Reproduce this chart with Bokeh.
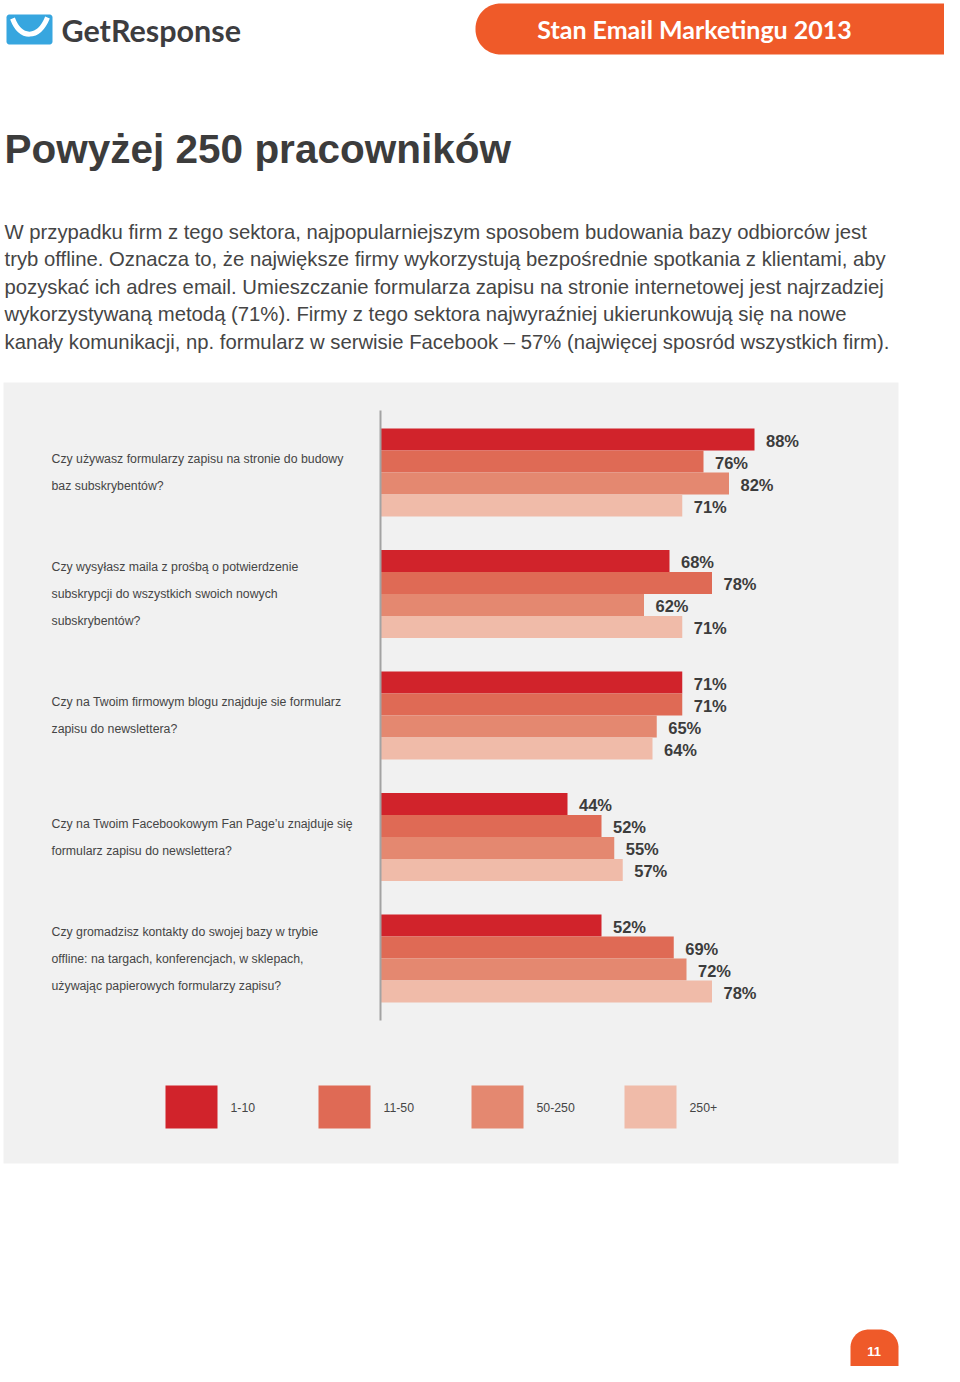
import numpy as np
from bokeh.plotting import figure
from bokeh.models import Range1d, ColumnDataSource
from bokeh.core.properties import value
from bokeh.embed import file_html
from bokeh.resources import INLINE

# ---------------- data ----------------
questions = [
    ["Czy używasz formularzy zapisu na stronie do budowy", "baz subskrybentów?"],
    ["Czy wysyłasz maila z prośbą o potwierdzenie", "subskrypcji do wszystkich swoich nowych", "subskrybentów?"],
    ["Czy na Twoim firmowym blogu znajduje sie formularz", "zapisu do newslettera?"],
    ["Czy na Twoim Facebookowym Fan Page’u znajduje się", "formularz zapisu do newslettera?"],
    ["Czy gromadzisz kontakty do swojej bazy w trybie", "offline: na targach, konferencjach, w sklepach,",
     "używając papierowych formularzy zapisu?"],
]
series_names = ["1-10", "11-50", "50-250", "250+"]
vals_1_10 = [88, 68, 71, 44, 52]
vals_11_50 = [76, 78, 71, 52, 69]
vals_50_250 = [82, 62, 65, 55, 72]
vals_250p = [71, 71, 64, 57, 78]
series_values = [vals_1_10, vals_11_50, vals_50_250, vals_250p]
series_colors = ["#d1232b", "#df6a55", "#e48870", "#f0bba9"]

header_brand = "GetResponse"
header_banner = "Stan Email Marketingu 2013"
title_text = "Powyżej 250 pracowników"
paragraph = [
    "W przypadku firm z tego sektora, najpopularniejszym sposobem budowania bazy odbiorców jest",
    "tryb offline. Oznacza to, że największe firmy wykorzystują bezpośrednie spotkania z klientami, aby",
    "pozyskać ich adres email. Umieszczanie formularza zapisu na stronie internetowej jest najrzadziej",
    "wykorzystywaną metodą (71%). Firmy z tego sektora najwyraźniej ukierunkowują się na nowe",
    "kanały komunikacji, np. formularz w serwisie Facebook – 57% (najwięcej sposród wszystkich firm).",
]
page_number = "11"

# ---------------- layout helpers ----------------
W, H = 944, 1366
OX, OY = 0, 0
TEXT_DARK = "#3c3c3c"
TEXT_MID = "#454545"
ORANGE = "#ef5a29"
FONT = value("Liberation Sans")


def rounded_rect(x0, x1, y0, y1, rtl=0, rtr=0, rbr=0, rbl=0, n=24):
    xs, ys = [], []
    def arc(cx, cy, r, a0, a1):
        if r <= 0:
            xs.append(cx); ys.append(cy); return
        t = np.linspace(a0, a1, n)
        xs.extend(cx + r * np.cos(t)); ys.extend(cy + r * np.sin(t))
    arc(x0 + rtl, y0 + rtl, rtl, np.pi, 1.5 * np.pi)
    arc(x1 - rtr, y0 + rtr, rtr, 1.5 * np.pi, 2 * np.pi)
    arc(x1 - rbr, y1 - rbr, rbr, 0, 0.5 * np.pi)
    arc(x0 + rbl, y1 - rbl, rbl, 0.5 * np.pi, np.pi)
    return list(xs), list(ys)


p = figure(width=W, height=H, output_backend="svg", toolbar_location=None,
           x_range=Range1d(OX, OX + W), y_range=Range1d(OY + H, OY),
           min_border=0, x_axis_type=None, y_axis_type=None,
           outline_line_color=None, background_fill_color="white",
           border_fill_color="white")
p.xgrid.visible = False
p.ygrid.visible = False

# percentage scale for bars: 0% at page x=380, 4.25 px per percent
AX0, PXPCT = 380, 4.25
p.extra_x_ranges = {"pct": Range1d((OX - AX0) / PXPCT, (OX + W - AX0) / PXPCT)}

# ---------------- header ----------------
lx, ly = rounded_rect(6, 52, 14, 44, 3, 3, 3, 3)
p.patch(lx, ly, fill_color="#37a6df", line_color=None)
p.bezier(x0=[12], y0=[18], x1=[47], y1=[17], cx0=[20], cy0=[39], cx1=[38], cy1=[39],
         line_color="white", line_width=5)
p.text(x=[61], y=[29], text=[header_brand], text_font=value("Lato"), text_font_style="bold",
       text_font_size="30.5px", text_color="#3d3d3f", text_baseline="middle")

bx, by = rounded_rect(475, 975, 3, 54, 25, 0, 0, 25)
p.patch(bx, by, fill_color=ORANGE, line_color=None)
p.text(x=[694], y=[28], text=[header_banner], text_font=value("Lato"), text_font_style="bold",
       text_font_size="25px", text_color="white", text_align="center", text_baseline="middle")

# ---------------- title & paragraph ----------------
p.text(x=[4], y=[148], text=[title_text], text_font=FONT, text_font_style="bold",
       text_font_size="40.5px", text_color=TEXT_DARK, text_baseline="middle")
p.text(x=[4] * len(paragraph), y=[231 + 27.5 * i for i in range(len(paragraph))], text=paragraph,
       text_font=FONT, text_font_size="20.3px", text_color=TEXT_MID, text_baseline="middle")

# ---------------- chart panel ----------------
p.quad(left=[3], right=[898], top=[382], bottom=[1163], fill_color="#f1f1f1", line_color=None)

GROUP_TOP, GROUP_STEP, BAR_H = 428, 121.5, 22
n_q = len(questions)
bar_src = dict(left=[], right=[], top=[], bottom=[], color=[], lx=[], ly=[], label=[])
for g in range(n_q):
    for s in range(len(series_values)):
        v = series_values[s][g]
        top = GROUP_TOP + g * GROUP_STEP + s * BAR_H
        bar_src["left"].append(0)
        bar_src["right"].append(v)
        bar_src["top"].append(top)
        bar_src["bottom"].append(top + BAR_H)
        bar_src["color"].append(series_colors[s])
        bar_src["lx"].append(v + 11.5 / PXPCT)
        bar_src["ly"].append(top + BAR_H / 2 + 1)
        bar_src["label"].append(f"{v}%")
src = ColumnDataSource(bar_src)
p.quad(left="left", right="right", top="top", bottom="bottom", fill_color="color",
       line_color=None, source=src, x_range_name="pct")
p.text(x="lx", y="ly", text="label", source=src, x_range_name="pct", text_font=FONT,
       text_font_style="bold", text_font_size="16.5px", text_color=TEXT_DARK, text_baseline="middle")

# axis line at 0%
p.segment(x0=[0], x1=[0], y0=[410], y1=[1020], line_color="#a3a3a3", line_width=2,
          x_range_name="pct")

# question labels
qx, qy, qt = [], [], []
for g, lines in enumerate(questions):
    center = GROUP_TOP + g * GROUP_STEP + 2 * BAR_H
    n = len(lines)
    for i, t in enumerate(lines):
        qx.append(51)
        qy.append(center + (i - (n - 1) / 2) * 27)
        qt.append(t)
p.text(x=qx, y=qy, text=qt, text_font=FONT, text_font_size="12.3px", text_color=TEXT_MID,
       text_baseline="middle")

# legend
for i, (name, col) in enumerate(zip(series_names, series_colors)):
    x0 = 165 + i * 153
    p.quad(left=[x0], right=[x0 + 52], top=[1085], bottom=[1128], fill_color=col, line_color=None)
    p.text(x=[x0 + 65], y=[1107], text=[name], text_font=FONT, text_font_size="12.3px",
           text_color=TEXT_MID, text_baseline="middle")

# page number tab
tx, ty = rounded_rect(850, 898, 1329, 1390, 18, 18, 0, 0)
p.patch(tx, ty, fill_color=ORANGE, line_color=None)
p.text(x=[873.5], y=[1351], text=[page_number], text_font=FONT, text_font_style="bold",
       text_font_size="13px", text_color="white", text_align="center", text_baseline="middle")

open("out.html", "w").write(file_html(p, INLINE))
